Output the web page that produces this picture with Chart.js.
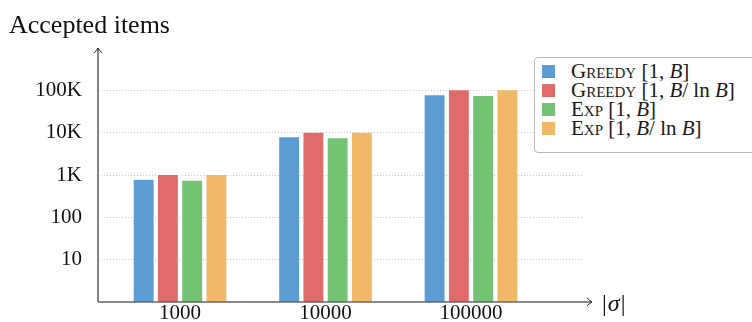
<!DOCTYPE html>
<html>
<head>
<meta charset="utf-8">
<script src="https://cdn.jsdelivr.net/npm/chart.js@4"></script>
<style>
  html, body { margin: 0; padding: 0; background: #fff; overflow: hidden; }
  #wrap { position: relative; width: 752px; height: 322px; }
  #legend {
    position: absolute; left: 534px; top: 57px; width: 240px; height: 96px;
    box-sizing: border-box; border: 1px solid #b8b8b8; border-radius: 4px;
    padding: 4px 0 0 7px; background: #fff;
    font-family: 'Liberation Serif', serif; font-size: 21px; color: #1a1a1a;
  }
  #legend .row { display: flex; align-items: center; height: 19px; white-space: nowrap; }
  #legend .sw { width: 13px; height: 13px; margin-right: 16px; flex: none; }
  #legend .sc { font-variant: small-caps; }
</style>
</head>
<body>
<div id="wrap">
  <canvas id="chart" width="752" height="322"></canvas>
  <div id="legend"></div>
</div>
<script>
const categories = ['1000', '10000', '100000'];
const greedyB = [770, 7800, 77000];
const greedyBLn = [1000, 10000, 100000];
const expB = [730, 7400, 73000];
const expBLn = [1000, 10000, 100000];
const seriesNames = ['Greedy [1, B]', 'Greedy [1, B/ ln B]', 'Exp [1, B]', 'Exp [1, B/ ln B]'];
const seriesColors = ['#5d9cd3', '#e06c6a', '#74c374', '#f1b868'];
const yTicks = [10, 100, 1000, 10000, 100000];
const yTickLabels = ['10', '100', '1K', '10K', '100K'];

const font = "'Liberation Serif', serif";
const axisColor = '#666';

function toPoints(values) {
    return values.map((v, i) => ({ x: i + 1, y: v }));
}

// legend label: first word in small caps, B in italics
function legendHtml(name) {
    const cut = name.indexOf(' ');
    const algo = name.slice(0, cut);
    const range = name.slice(cut).replace(/B/g, '<i>B</i>');
    return '<span><span class="sc">' + algo + '</span>' + range + '</span>';
}

const htmlLegend = {
    id: 'htmlLegend',
    afterUpdate(chart) {
        const box = document.getElementById('legend');
        box.innerHTML = chart.data.datasets.map((ds) =>
            '<div class="row"><span class="sw" style="background:' + ds.backgroundColor + '"></span>' +
            legendHtml(ds.label) + '</div>').join('');
    },
};

function arrowHead(ctx, x, y, dx, dy) {
    // small curved "->" tip pointing along (dx, dy)
    const px = -dy, py = dx;
    ctx.beginPath();
    ctx.moveTo(x - dx * 5 + px * 4, y - dy * 5 + py * 4);
    ctx.quadraticCurveTo(x - dx * 1.5 + px * 0.8, y - dy * 1.5 + py * 0.8, x, y);
    ctx.quadraticCurveTo(x - dx * 1.5 - px * 0.8, y - dy * 1.5 - py * 0.8, x - dx * 5 - px * 4, y - dy * 5 - py * 4);
    ctx.stroke();
}

const axesPlugin = {
    id: 'axesPlugin',
    afterDraw(chart) {
        const { ctx, chartArea } = chart;
        const left = chartArea.left, bottom = chartArea.bottom;
        ctx.save();
        ctx.strokeStyle = axisColor;
        ctx.lineWidth = 1.6;
        ctx.beginPath();
        ctx.moveTo(left, bottom);
        ctx.lineTo(left, chartArea.top);
        ctx.moveTo(left, bottom);
        ctx.lineTo(chartArea.right + 9, bottom);
        ctx.stroke();
        ctx.lineWidth = 1;
        ctx.strokeStyle = '#222';
        arrowHead(ctx, left, chartArea.top, 0, -1);
        arrowHead(ctx, chartArea.right + 9, bottom, 1, 0);

        ctx.fillStyle = '#111';
        ctx.textBaseline = 'alphabetic';
        ctx.font = '26px ' + font;
        ctx.fillText('Accepted items', 9, 33);

        let x = chartArea.right + 19;
        ctx.font = '24px ' + font;
        ctx.fillText('|', x, 311);
        x += ctx.measureText('|').width + 1;
        ctx.font = 'italic 24px ' + font;
        ctx.fillText('σ', x, 311);
        x += ctx.measureText('σ').width + 1;
        ctx.font = '24px ' + font;
        ctx.fillText('|', x, 311);
        ctx.restore();
    },
};

new Chart(document.getElementById('chart'), {
    type: 'bar',
    data: {
        datasets: [greedyB, greedyBLn, expB, expBLn].map((values, i) => ({
            label: seriesNames[i],
            data: toPoints(values),
            backgroundColor: seriesColors[i],
            borderWidth: 0,
            categoryPercentage: 0.667,
            barPercentage: 0.82,
        })),
    },
    options: {
        responsive: false,
        animation: false,
        devicePixelRatio: 1,
        layout: { padding: { left: 0, top: 48, right: 169, bottom: 0 } },
        plugins: {
            legend: { display: false },
            tooltip: { enabled: false },
        },
        scales: {
            x: {
                type: 'linear',
                offset: false,
                bounds: 'data',
                min: 0.436,
                max: 3.77,
                afterBuildTicks: (scale) => {
                    scale.ticks = categories.map((c, i) => ({ value: i + 1 }));
                },
                afterFit: (scale) => {
                    scale.height = 20;
                    scale.paddingLeft = 0;
                    scale.paddingRight = 0;
                },
                ticks: {
                    callback: (value, index) => categories[index],
                    font: { family: font, size: 21 },
                    color: '#111',
                    padding: -1,
                    maxRotation: 0,
                },
                grid: { display: false, drawTicks: false, offset: false },
                border: { display: false },
            },
            y: {
                type: 'logarithmic',
                min: 1,
                max: 1000000,
                afterBuildTicks: (scale) => {
                    scale.ticks = yTicks.map((v) => ({ value: v }));
                },
                afterFit: (scale) => {
                    scale.width = 98;
                    scale.paddingTop = 0;
                    scale.paddingBottom = 0;
                },
                ticks: {
                    callback: (value, index) => yTickLabels[index],
                    font: { family: font, size: 21 },
                    color: '#111',
                    padding: 16,
                },
                grid: { color: '#c8c8c8', lineWidth: 1, drawTicks: false },
                border: { display: false, dash: [1, 2] },
            },
        },
    },
    plugins: [htmlLegend, axesPlugin],
});
</script>
</body>
</html>
